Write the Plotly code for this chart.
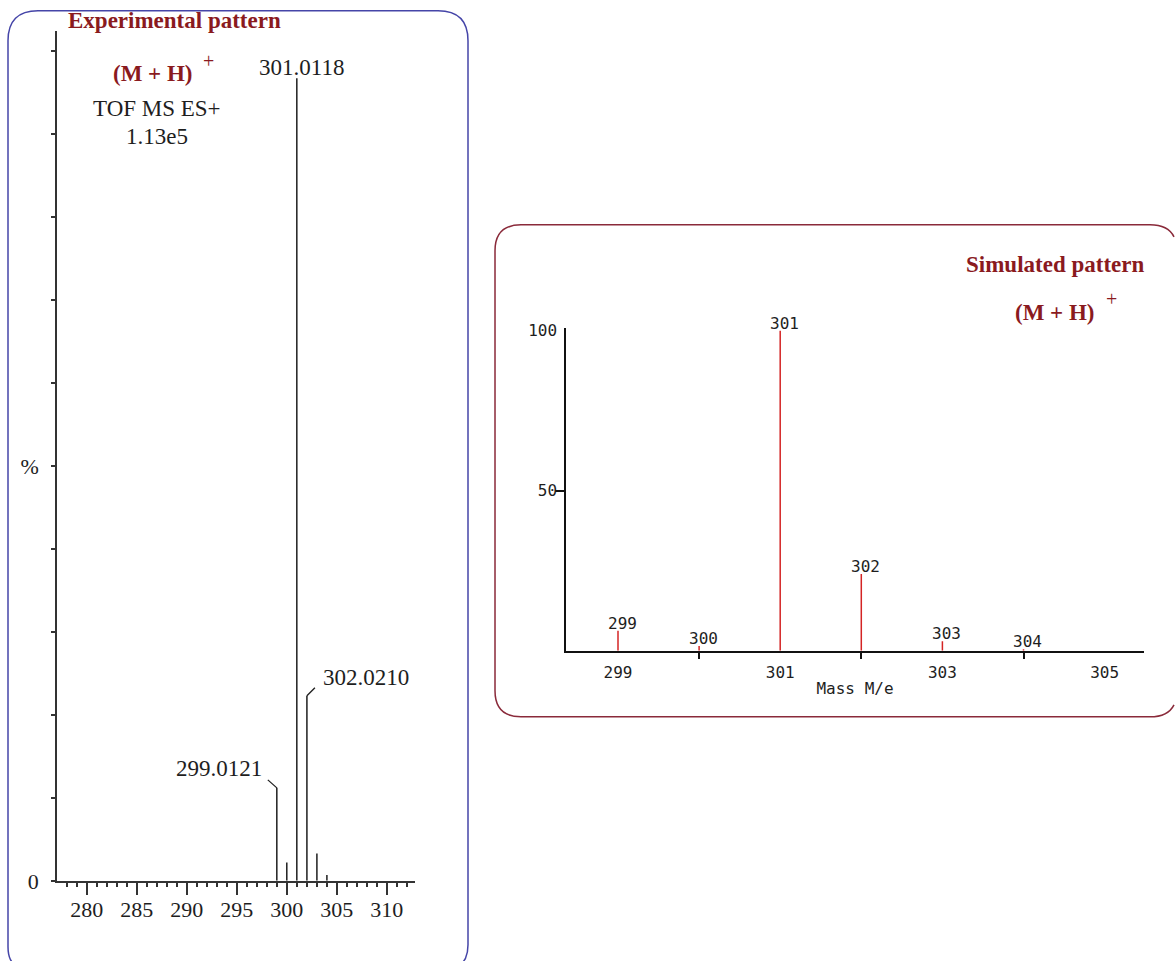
import plotly.graph_objects as go

W = 1175
HF = 976          # figure height in page pixels
YS, YO = 0.9805, 5.2   # observed picture-y = YO + YS * page-y

# ---------------- data ----------------
exp_mass = [299.0121, 300.01, 301.0118, 302.0210, 303.02, 304.02]
exp_int = [11.2, 2.2, 96.7, 22.3, 3.3, 0.7]
exp_labels = {299.0121: "299.0121", 301.0118: "301.0118", 302.0210: "302.0210"}

sim_mass = [299, 300, 301, 302, 303, 304]
sim_int = [6.3, 1.5, 100, 24, 3.0, 0.5]
sim_labels = ["299", "300", "301", "302", "303", "304"]

exp_xticks = [280, 285, 290, 295, 300, 305, 310]
sim_xticks = [299, 301, 303, 305]
sim_minor = [300, 302, 304]

SERIF = "Liberation Serif, Times New Roman, serif"
MONO = "DejaVu Sans Mono, monospace"
DARKRED = "#8a1a1e"
INK = "#1e1e1e"


def px(x):
    return x / W


def pg(y):
    return (y - YO) / YS


def py(y):
    return 1 - pg(y) / HF


def P(x, y):
    return f"{px(x):.5f},{py(y):.5f}"


def stems(xs, ys):
    sx, sy = [], []
    for x, y in zip(xs, ys):
        sx += [x, x, None]
        sy += [0, y, None]
    return sx, sy


fig = go.Figure()

ex, ey = stems(exp_mass, exp_int)
fig.add_trace(go.Scatter(x=ex, y=ey, mode="lines", line=dict(color=INK, width=1.5),
                         xaxis="x", yaxis="y", hoverinfo="skip", showlegend=False))
sx, sy = stems(sim_mass, sim_int)
fig.add_trace(go.Scatter(x=sx, y=sy, mode="lines", line=dict(color="#d42424", width=1.5),
                         xaxis="x2", yaxis="y2", hoverinfo="skip", showlegend=False))

# left axes geometry (picture pixel -> data)
lx0, lx1 = 57, 415
ly0, ly1 = 880, 30
def lm(p):
    return 300 + (p - 286.7) / 10.0
ly_scale = 8.3

# right axes geometry
rx0, rx1 = 566, 1144
ry0, ry1 = 650, 327
def rm(p):
    return 299 + (p - 618) / 81.1
ry_scale = 3.2

axis_common = dict(showgrid=False, zeroline=False, showline=True, linewidth=1.5,
                   fixedrange=True)

fig.update_layout(
    width=W, height=HF, margin=dict(l=0, r=0, t=0, b=0),
    paper_bgcolor="white", plot_bgcolor="rgba(0,0,0,0)", showlegend=False,
    xaxis=dict(**axis_common, domain=[px(lx0), px(lx1)], range=[lm(lx0), lm(lx1)],
               anchor="y", linecolor="#333333",
               tickmode="array", tickvals=exp_xticks, ticks="outside", ticklen=12,
               tickwidth=1.5, tickcolor="#333333", ticklabelstandoff=-4,
               tickfont=dict(family=SERIF, size=22, color=INK),
               minor=dict(dtick=1, tick0=0, ticks="outside", ticklen=4, tickwidth=1.5,
                          tickcolor="#333333")),
    yaxis=dict(**axis_common, domain=[py(ly0), py(ly1)], range=[0, (ly0 - ly1) / ly_scale],
               anchor="x", linecolor="#333333",
               tickmode="array", tickvals=[0, 50], ticktext=["0", "%"], ticks="outside",
               ticklen=4, tickwidth=1.5, tickcolor="#333333", ticklabelstandoff=8,
               tickfont=dict(family=SERIF, size=22, color=INK),
               minor=dict(tickvals=list(range(0, 101, 10)), ticks="outside", ticklen=4,
                          tickwidth=1.5, tickcolor="#333333")),
    xaxis2=dict(**axis_common, domain=[px(rx0), px(rx1)], range=[rm(rx0), rm(rx1)],
                anchor="y2", linecolor="#111111",
                tickmode="array", tickvals=sim_xticks, ticks="outside", ticklen=6,
                tickcolor="rgba(0,0,0,0)", ticklabelstandoff=0,
                tickfont=dict(family=MONO, size=16, color=INK),
                minor=dict(tickvals=sim_minor, ticks="outside", ticklen=6, tickwidth=1.5,
                           tickcolor="#111111"),
                title=dict(text="Mass M/e", font=dict(family=MONO, size=16, color=INK),
                           standoff=2)),
    yaxis2=dict(**axis_common, domain=[py(ry0), py(ry1)], range=[0, (ry0 - ry1) / ry_scale],
                anchor="x2", linecolor="#111111",
                tickmode="array", tickvals=[50, 100], ticks="outside", ticklen=4,
                tickcolor="rgba(0,0,0,0)", ticklabelstandoff=0,
                tickfont=dict(family=MONO, size=16, color=INK),
                minor=dict(tickvals=[50], ticks="outside", ticklen=9, tickwidth=1.5,
                           tickcolor="#111111")),
)

# rounded frames (their far edges run off the picture)
left_frame = (f"M {P(18, 966)} Q {P(8, 962)} {P(8, 946)} L {P(8, 40)} Q {P(8, 10)} {P(38, 10)} "
              f"L {P(438, 10)} Q {P(468, 10)} {P(468, 40)} L {P(468, 944)} "
              f"Q {P(468, 960)} {P(458, 966)}")
right_frame = (f"M {P(1150, 224)} L {P(521, 224)} Q {P(495, 224)} {P(495, 250)} "
               f"L {P(495, 690)} Q {P(495, 716)} {P(521, 716)} L {P(1150, 716)} "
               f"Q {P(1168, 716)} {P(1174, 704)} "
               f"M {P(1150, 224)} Q {P(1168, 224)} {P(1174, 236)}")

shapes = [
    dict(type="path", xref="paper", yref="paper", path=left_frame,
         line=dict(color="#4545a8", width=1.5), layer="below"),
    dict(type="path", xref="paper", yref="paper", path=right_frame,
         line=dict(color="#8a2a3a", width=1.5), layer="below"),
]

# leader lines for two labelled experimental peaks (pixel-size offsets anchored to data)
for m, h, dx, dy in [(exp_mass[0], exp_int[0], -9, 8), (exp_mass[3], exp_int[3], 8, 8)]:
    shapes.append(dict(type="line", xref="x", yref="y", xsizemode="pixel", ysizemode="pixel",
                       xanchor=m, yanchor=h, x0=0, x1=dx, y0=0, y1=dy,
                       line=dict(color=INK, width=1.3)))
fig.update_layout(shapes=shapes)

ann = []
ann.append(dict(x=exp_mass[2], y=exp_int[2], xref="x", yref="y", text=exp_labels[301.0118],
                showarrow=False, xanchor="center", yanchor="middle", xshift=5, yshift=11,
                font=dict(family=SERIF, size=23, color=INK)))
ann.append(dict(x=exp_mass[3], y=exp_int[3], xref="x", yref="y", text=exp_labels[302.0210],
                showarrow=False, xanchor="left", yanchor="middle", xshift=14, yshift=18,
                font=dict(family=SERIF, size=23, color=INK)))
ann.append(dict(x=exp_mass[0], y=exp_int[0], xref="x", yref="y", text=exp_labels[299.0121],
                showarrow=False, xanchor="right", yanchor="middle", xshift=-13, yshift=19,
                font=dict(family=SERIF, size=23, color=INK)))

for m, h, t in zip(sim_mass, sim_int, sim_labels):
    ann.append(dict(x=m, y=h, xref="x2", yref="y2", text=t, showarrow=False,
                    xanchor="center", yanchor="bottom", xshift=4, yshift=-4,
                    font=dict(family=MONO, size=16, color=INK)))


def ptext(x, y, text, size=23, color=INK, xanchor="center", bold=False):
    if bold:
        text = f"<b>{text}</b>"
    return dict(x=px(x), y=py(y), xref="paper", yref="paper", text=text, showarrow=False,
                xanchor=xanchor, yanchor="middle", font=dict(family=SERIF, size=size, color=color))


ann.append(ptext(66, 20, "Experimental pattern", color=DARKRED, xanchor="left", bold=True))
ann.append(ptext(153, 73, "(M + H)", color=DARKRED, bold=True))
ann.append(ptext(208, 60, "+", size=20, color=DARKRED))
ann.append(ptext(157, 108, "TOF MS ES+"))
ann.append(ptext(157, 136, "1.13e5"))

ann.append(ptext(1055, 264, "Simulated pattern", color=DARKRED, bold=True))
ann.append(ptext(1055, 312, "(M + H)", color=DARKRED, bold=True))
ann.append(ptext(1111, 298, "+", size=20, color=DARKRED))

fig.update_layout(annotations=ann)

fig.write_html("out.html", config={"displayModeBar": False},
               post_script="document.body.style.margin='0px';")
